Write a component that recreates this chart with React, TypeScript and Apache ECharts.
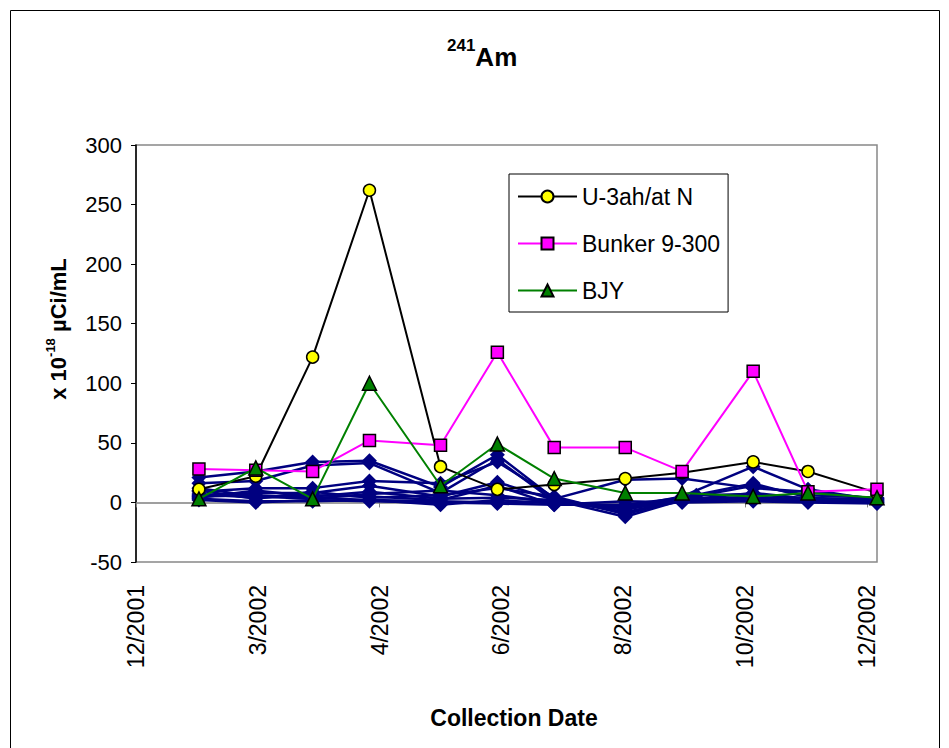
import React, { useEffect, useRef } from 'react';
import * as echarts from 'echarts';

// ---- data ----
const BASE_DATE = '2001-12-31';
const AXIS_DAYS = 365;
const TICK_DAYS = 60;
const Y_MIN = -50;
const Y_MAX = 300;
const Y_STEP = 50;

const dates = ['2002-01-31', '2002-02-28', '2002-03-28', '2002-04-25', '2002-05-30', '2002-06-27', '2002-07-25', '2002-08-29', '2002-09-26', '2002-10-31', '2002-11-27', '2002-12-31'];
const datesAlt = ['2002-01-31', '2002-02-28', '2002-03-28', '2002-04-25', '2002-05-30', '2002-06-27', '2002-07-25', '2002-08-29', '2002-10-03', '2002-10-31', '2002-11-27', '2002-12-31'];

const u3ah = [11, 22, 122, 262, 30, 11, 15, 20, 25, 34, 26, 8];
const bunker = [28, 27, 26, 52, 48, 126, 46, 46, 26, 110, 9, 11];
const bjy = [3, 29, 3, 100, 14, 49, 20, 8, 8, 5, 8, 4];

const blue1 = [21, 26, 34, 35, 13, 40, 3, 19, 20, 12, 9, 3];
const blue2 = [16, 18, 31, 33, 8, 36, 1, -4, 5, 30, 11, 2];
const blue3 = [9, 12, 12, 18, 16, 34, 4, -9, 3, 14, 6, 4];
const blue4 = [6, 8, 8, 14, 5, 17, 2, -12, 2, 8, 3, 1];
const blue5 = [12, 5, 3, 7, 10, 6, 0, -6, 2, 5, 2, 0];
const blue6 = [3, 1, 1, 2, -2, 2, -1, -3, 1, 2, 1, 0];
const blue7 = [7, 4, 6, 5, 2, 14, -2, -2, 4, 16, 4, 2];
const blue8 = [4, 10, 5, 9, 3, 4, 2, -8, 1, 3, 2, 1];
const blue9 = [2, 0, 2, 1, 0, -1, -2, 1, 0, 1, 0, -1];
const blue10 = [5, 6, 4, 2, 1, 0, 1, -5, 3, 4, 1, 2];
const blue11 = [10, 3, 9, 4, 6, 12, 5, -10, 6, 7, 3, 3]; // uses datesAlt

const DAY = 86400000;
const baseMs = Date.parse(BASE_DATE);
const toDay = (d: string) => Math.round((Date.parse(d) - baseMs) / DAY);
const pair = (ds: string[], vs: number[]) => vs.map((v, i) => [toDay(ds[i]), v]);

const FONT = 'Liberation Sans, Arial, sans-serif';

export default function App() {
  const ref = useRef<HTMLDivElement>(null);
  useEffect(() => {
    if (!ref.current) return;
    const chart = echarts.init(ref.current, undefined, { renderer: 'svg' });

    const blueStyle = {
      type: 'line',
      symbol: 'diamond',
      symbolSize: 15,
      lineStyle: { color: '#000080', width: 2.5 },
      itemStyle: { color: '#000080' },
    };
    const blues = [blue1, blue2, blue3, blue4, blue5, blue6, blue7, blue8, blue9, blue10];
    const blueSeries: any[] = blues.map((b, i) => ({
      ...blueStyle,
      name: 'Site ' + (i + 1),
      data: pair(dates, b),
    }));
    blueSeries.push({ ...blueStyle, name: 'Site 11', data: pair(datesAlt, blue11) });

    const option: any = {
      animation: false,
      backgroundColor: '#ffffff',
      textStyle: { fontFamily: FONT },
      title: {
        text: '{s|241}{a|Am}',
        left: 447,
        top: 37,
        padding: 0,
        textStyle: {
          rich: {
            s: { fontSize: 17, fontWeight: 'bold', lineHeight: 17, verticalAlign: 'top', color: '#000', fontFamily: FONT },
            a: { fontSize: 26, fontWeight: 'bold', lineHeight: 40, color: '#000', fontFamily: FONT },
          },
        },
      },
      legend: {
        data: ['U-3ah/at N', 'Bunker 9-300', 'BJY'],
        orient: 'vertical',
        left: 509,
        top: 174,
        backgroundColor: '#ffffff',
        borderColor: '#000000',
        borderWidth: 1,
        borderRadius: 0,
        padding: [11, 8, 10, 8],
        itemWidth: 59,
        itemHeight: 15,
        itemGap: 24,
        selectedMode: false,
        textStyle: { fontSize: 23, lineHeight: 23, color: '#000', fontFamily: FONT },
      },
      grid: {
        left: 136,
        top: 145,
        right: 72,
        bottom: 186,
        show: true,
        borderColor: '#888888',
        borderWidth: 1.5,
        backgroundColor: 'transparent',
      },
      xAxis: [
        {
          type: 'value',
          min: 0,
          max: AXIS_DAYS,
          interval: TICK_DAYS,
          axisLine: { show: true, onZero: true, lineStyle: { color: '#808080', width: 1.5 } },
          axisTick: { show: true, length: 5, lineStyle: { color: '#808080' } },
          axisLabel: { show: false },
          splitLine: { show: false },
        },
        {
          type: 'value',
          position: 'bottom',
          min: 0,
          max: AXIS_DAYS,
          interval: TICK_DAYS,
          axisLine: { show: false, onZero: false },
          axisTick: { show: false },
          splitLine: { show: false },
          axisLabel: {
            rotate: 90,
            margin: 23,
            fontSize: 23,
            color: '#000',
            fontFamily: FONT,
            formatter: (v: number) => {
              if (v % TICK_DAYS !== 0) return '';
              const d = new Date(baseMs + v * DAY);
              return (d.getUTCMonth() + 1) + '/' + d.getUTCFullYear();
            },
          },
        },
      ],
      yAxis: {
        type: 'value',
        min: Y_MIN,
        max: Y_MAX,
        interval: Y_STEP,
        axisLine: { show: true, lineStyle: { color: '#000', width: 1.5 } },
        axisTick: { show: true, length: 5, lineStyle: { color: '#000' } },
        axisLabel: { fontSize: 22, color: '#000', margin: 14, fontFamily: FONT },
        splitLine: { show: false },
      },
      graphic: [
        {
          type: 'rect',
          shape: { x: 10.5, y: 10.5, width: 929, height: 780 },
          style: { fill: 'none', stroke: '#000', lineWidth: 1 },
          silent: true,
        },
        {
          type: 'text',
          x: 58,
          y: 329,
          rotation: Math.PI / 2,
          style: {
            text: '{a|x 10}{s|-18}{a| µCi/mL}',
            align: 'center',
            verticalAlign: 'middle',
            rich: {
              a: { fontSize: 22, fontWeight: 'bold', lineHeight: 28, fill: '#000', fontFamily: FONT },
              s: { fontSize: 13, fontWeight: 'bold', lineHeight: 13, verticalAlign: 'top', fill: '#000', fontFamily: FONT },
            },
          },
        },
        {
          type: 'text',
          x: 514,
          y: 718,
          style: {
            text: 'Collection Date',
            align: 'center',
            verticalAlign: 'middle',
            fontSize: 23,
            fontWeight: 'bold',
            fill: '#000',
            fontFamily: FONT,
          },
        },
      ],
      series: [
        ...blueSeries,
        {
          name: 'U-3ah/at N',
          type: 'line',
          data: pair(dates, u3ah),
          symbol: 'circle',
          symbolSize: 12,
          lineStyle: { color: '#000000', width: 2 },
          itemStyle: { color: '#FFFF00', borderColor: '#000', borderWidth: 1.5 },
          z: 5,
        },
        {
          name: 'Bunker 9-300',
          type: 'line',
          data: pair(dates, bunker),
          symbol: 'rect',
          symbolSize: 12,
          lineStyle: { color: '#FF00FF', width: 2 },
          itemStyle: { color: '#FF00FF', borderColor: '#000', borderWidth: 1.5 },
          z: 5,
        },
        {
          name: 'BJY',
          type: 'line',
          data: pair(dates, bjy),
          symbol: 'triangle',
          symbolSize: 14,
          lineStyle: { color: '#008000', width: 2 },
          itemStyle: { color: '#008000', borderColor: '#000', borderWidth: 1.5 },
          z: 5,
        },
      ],
    };
    chart.setOption(option);
    return () => chart.dispose();
  }, []);
  return (
    <div
      ref={ref}
      style={{ position: 'fixed', left: 0, top: 0, width: 949, height: 748, background: '#fff' }}
    />
  );
}
